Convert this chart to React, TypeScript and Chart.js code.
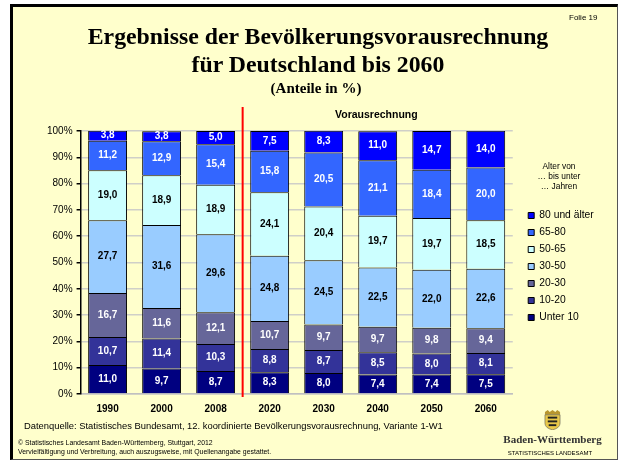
import React, { useEffect, useRef } from "react";
import { Chart, registerables } from "chart.js";

Chart.register(...registerables);

const years = ["1990", "2000", "2008", "2020", "2030", "2040", "2050", "2060"];
const under10 = [11.0, 9.7, 8.7, 8.3, 8.0, 7.4, 7.4, 7.5];
const age10to20 = [10.7, 11.4, 10.3, 8.8, 8.7, 8.5, 8.0, 8.1];
const age20to30 = [16.7, 11.6, 12.1, 10.7, 9.7, 9.7, 9.8, 9.4];
const age30to50 = [27.7, 31.6, 29.6, 24.8, 24.5, 22.5, 22.0, 22.6];
const age50to65 = [19.0, 18.9, 18.9, 24.1, 20.4, 19.7, 19.7, 18.5];
const age65to80 = [11.2, 12.9, 15.4, 15.8, 20.5, 21.1, 18.4, 20.0];
const age80plus = [3.8, 3.8, 5.0, 7.5, 8.3, 11.0, 14.7, 14.0];

const seriesNames = ["Unter 10", "10-20", "20-30", "30-50", "50-65", "65-80", "80 und älter"];
const seriesColors = ["#000080", "#333399", "#666699", "#99CCFF", "#CCFFFF", "#3366FF", "#0000FF"];
const labelColors = ["#fff", "#fff", "#fff", "#000", "#000", "#fff", "#fff"];
const seriesValues = [under10, age10to20, age20to30, age30to50, age50to65, age65to80, age80plus];

const ARIAL = '"Liberation Sans", Arial, sans-serif';
const SERIF = '"Liberation Serif", "Times New Roman", serif';

const segmentLabels = {
  id: "segmentLabels",
  afterDatasetsDraw(chart: any) {
    const ctx = chart.ctx;
    ctx.save();
    ctx.font = `bold 10px ${ARIAL}`;
    ctx.textAlign = "center";
    ctx.textBaseline = "middle";
    chart.data.datasets.forEach((ds: any, i: number) => {
      chart.getDatasetMeta(i).data.forEach((bar: any, j: number) => {
        ctx.fillStyle = labelColors[i];
        ctx.fillText(ds.data[j].toFixed(1).replace(".", ","), bar.x, (bar.y + bar.base) / 2);
      });
    });
    ctx.restore();
  },
};

const dividerLine = {
  id: "dividerLine",
  afterDatasetsDraw(chart: any) {
    const x = chart.scales.x;
    const pos = (x.getPixelForValue(2) + x.getPixelForValue(3)) / 2;
    const ctx = chart.ctx;
    ctx.save();
    ctx.strokeStyle = "#FF0000";
    ctx.lineWidth = 2;
    ctx.beginPath();
    ctx.moveTo(pos, 107);
    ctx.lineTo(pos, 397);
    ctx.stroke();
    ctx.restore();
  },
};

const placeLegend = {
  id: "placeLegend",
  afterLayout(chart: any) {
    const lg = chart.legend;
    lg.left = 521.5;
    lg.right = 621;
    lg.top -= 11;
    lg.bottom -= 11;
  },
};

const text = (s: React.CSSProperties): React.CSSProperties => ({
  position: "absolute",
  whiteSpace: "nowrap",
  color: "#000",
  fontFamily: ARIAL,
  ...s,
});

export default function App() {
  const ref = useRef<HTMLCanvasElement>(null);
  useEffect(() => {
    document.body.style.margin = "0";
    const chart = new Chart(ref.current!, {
      type: "bar",
      data: {
        labels: years,
        datasets: seriesNames.map((name, i) => ({
          label: name,
          data: seriesValues[i],
          backgroundColor: seriesColors[i],
          borderColor: "#000",
          borderWidth: 1,
          categoryPercentage: 0.72,
          barPercentage: 1,
        })),
      },
      plugins: [segmentLabels, dividerLine, placeLegend],
      options: {
        responsive: false,
        animation: false,
        layout: { padding: { left: 43, right: 26, top: 131, bottom: 37 } },
        scales: {
          x: {
            stacked: true,
            grid: { display: false, drawTicks: false },
            border: { color: "#C0C0C0", width: 1.5 },
            ticks: { color: "#000", font: { family: ARIAL, size: 10, weight: "bold" }, padding: 9, maxRotation: 0 },
          },
          y: {
            stacked: true,
            min: 0,
            max: 100,
            grid: { color: "#CFCFC8", lineWidth: 1.5, tickColor: "#000", tickLength: 4 },
            border: { color: "#000", width: 1.5 },
            ticks: {
              stepSize: 10,
              color: "#000",
              padding: 4,
              font: { family: ARIAL, size: 10 },
              callback: (v: any) => `${v}%`,
            },
          },
        },
        plugins: {
          title: { display: false },
          tooltip: { enabled: false },
          legend: {
            position: "right",
            reverse: true,
            align: "center",
            labels: {
              boxWidth: 6,
              boxHeight: 6,
              padding: 6.7,
              color: "#000",
              font: { family: ARIAL, size: 10.3 },
            },
          },
        },
      },
    } as any);
    return () => chart.destroy();
  }, []);

  return (
    <div style={{ position: "relative", width: 621, height: 461, overflow: "hidden", background: "#fff" }}>
      <div
        style={{
          position: "absolute",
          left: 10,
          top: 4,
          width: 608,
          height: 456,
          background: "#FFFFCC",
          borderTop: "3px solid #000",
          borderLeft: "3px solid #000",
          borderRight: "1px solid #555",
          borderBottom: "1px solid #555",
          boxSizing: "border-box",
        }}
      />
      <canvas ref={ref} width={621} height={461} style={{ position: "absolute", left: 0, top: 0, display: "block" }} />
      <div style={text({ left: 569, top: 13, fontSize: 8 })}>Folie 19</div>
      <div style={text({ left: 0, width: 636, top: 22, textAlign: "center", fontFamily: SERIF, fontWeight: "bold", fontSize: 23.8, lineHeight: "28px" })}>
        Ergebnisse der Bevölkerungsvorausrechnung
        <br />
        für Deutschland bis 2060
      </div>
      <div style={text({ left: 0, width: 632, top: 80, textAlign: "center", fontFamily: SERIF, fontWeight: "bold", fontSize: 15 })}>(Anteile in %)</div>
      <div style={text({ left: 335, top: 108, fontSize: 10.5, fontWeight: "bold" })}>Vorausrechnung</div>
      <div style={text({ left: 529, width: 60, top: 161, textAlign: "center", fontSize: 8.4, lineHeight: "10px" })}>
        Alter von
        <br />… bis unter
        <br />… Jahren
      </div>
      <div style={text({ left: 24, top: 420, fontSize: 9.4 })}>
        Datenquelle: Statistisches Bundesamt, 12. koordinierte Bevölkerungsvorausrechnung, Variante 1-W1
      </div>
      <div style={text({ left: 18, top: 438, fontSize: 6.9, lineHeight: "9px" })}>
        © Statistisches Landesamt Baden-Württemberg, Stuttgart, 2012
        <br />
        Vervielfältigung und Verbreitung, auch auszugsweise, mit Quellenangabe gestattet.
      </div>
      <svg style={{ position: "absolute", left: 544, top: 409, width: 17, height: 21 }} viewBox="0 0 18 22">
        <path d="M1 3 L4 1 L6 3 L9 1 L12 3 L14 1 L17 3 V6 H1 Z" fill="#B8962E" />
        <path d="M1 6 H17 V15 Q17 20 9 22 Q1 20 1 15 Z" fill="#E8C84A" stroke="#555" strokeWidth="0.6" />
        <rect x="4" y="8" width="10" height="2" fill="#222" />
        <rect x="4" y="12" width="10" height="2" fill="#222" />
        <rect x="5" y="16" width="8" height="2" fill="#222" />
      </svg>
      <div style={text({ left: 490, width: 125, top: 433, textAlign: "center", fontFamily: SERIF, fontWeight: "bold", fontSize: 11, color: "#333" })}>Baden-Württemberg</div>
      <div style={text({ left: 488, width: 124, top: 450, textAlign: "center", fontSize: 6 })}>STATISTISCHES LANDESAMT</div>
    </div>
  );
}
